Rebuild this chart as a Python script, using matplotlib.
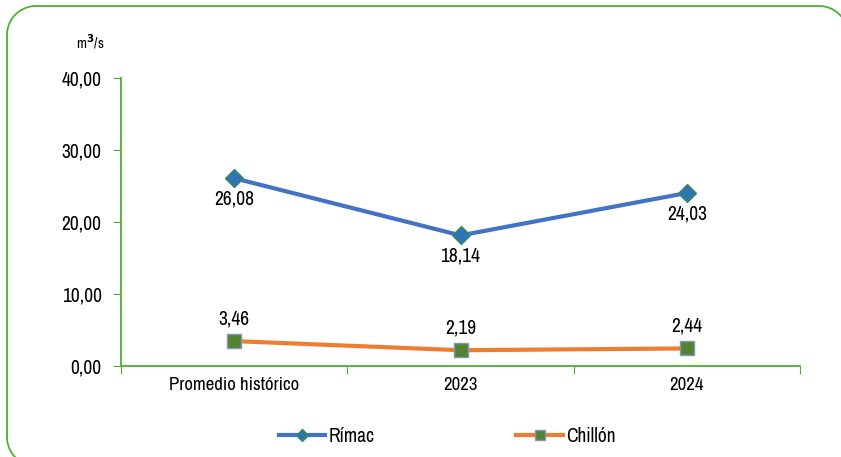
import numpy as np
import matplotlib.pyplot as plt
from matplotlib.lines import Line2D

categorias = ["Promedio histórico", "2023", "2024"]
rimac = [26.08, 18.14, 24.03]
chillon = [3.46, 2.19, 2.44]

plt.rcParams['font.family'] = ['Liberation Sans Narrow', 'Arial Narrow', 'Archivo Narrow',
                               'PT Sans Narrow', 'Roboto Condensed', 'Liberation Sans', 'DejaVu Sans']

verde = '#4CB030'
W, H = 841, 457

fig = plt.figure(figsize=(8.41, 4.57), dpi=100)

# marco redondeado, en pixeles (desde arriba a la izquierda)
# orden: esquina inf. izq. (de abajo hacia arriba), sup. izq., sup. der.
r = 29
bx = 7 + r + r * np.cos(np.linspace(0.5 * np.pi, np.pi, 30))
by = 466 - r + r * np.sin(np.linspace(0.5 * np.pi, np.pi, 30))
t1 = np.linspace(np.pi, 1.5 * np.pi, 30)
t2 = np.linspace(1.5 * np.pi, 2 * np.pi, 30)
px = np.concatenate([bx, 7 + r + r * np.cos(t1), 848 - r + r * np.cos(t2)])
py = np.concatenate([by, 6 + r + r * np.sin(t1), 6 + r + r * np.sin(t2)])
fig.add_artist(Line2D(px / W, 1 - py / H, transform=fig.transFigure,
                      color=verde, linewidth=1.3, solid_capstyle='round'))

ax = fig.add_axes([121 / W, 91 / H, 679 / W, 288 / H])

x = list(range(len(categorias)))
ax.plot(x, rimac, color='#4472C4', linewidth=3, marker='D', markersize=9,
        markerfacecolor='#2E75B6', markeredgecolor='#3A8A5A', zorder=3)
ax.plot(x, chillon, color='#ED7D31', linewidth=3, marker='s', markersize=10,
        markerfacecolor='#548235', markeredgecolor='#8497B0', zorder=3)

for xi, v in zip(x, rimac):
    ax.annotate(f"{v:.2f}".replace('.', ','), (xi, v), xytext=(0, -8),
                textcoords='offset points', ha='center', va='top', fontsize=14)
for xi, v in zip(x, chillon):
    ax.annotate(f"{v:.2f}".replace('.', ','), (xi, v), xytext=(0, 9),
                textcoords='offset points', ha='center', va='bottom', fontsize=14)

ax.set_xlim(-0.5, 2.5)
ax.set_ylim(0, 40)
ax.set_yticks([0, 10, 20, 30, 40])
ax.set_yticklabels([f"{t:.2f}".replace('.', ',') for t in [0, 10, 20, 30, 40]], fontsize=14)
ax.set_xticks([-0.5, 0.5, 1.5, 2.5], minor=False)
ax.set_xticklabels([])
ax.set_xticks(x, minor=True)
ax.set_xticklabels(categorias, minor=True, fontsize=13.5)
ax.tick_params(axis='x', which='minor', length=0, pad=8)
ax.tick_params(axis='x', which='major', length=6, color=verde, direction='out')
ax.tick_params(axis='y', length=6, color=verde, direction='out', pad=8)

for s in ['top', 'right']:
    ax.spines[s].set_visible(False)
for s in ['left', 'bottom']:
    ax.spines[s].set_color(verde)
    ax.spines[s].set_linewidth(1.3)

fig.text(90 / W, 1 - 42 / H, "m$^\\mathbf{3}$/s", fontsize=10.5, fontweight='bold',
         ha='center', va='center')

handles = [
    Line2D([], [], color='#4472C4', linewidth=3, marker='D', markersize=6,
           markerfacecolor='#2E75B6', markeredgecolor='#3A8A5A'),
    Line2D([], [], color='#ED7D31', linewidth=3, marker='s', markersize=7,
           markerfacecolor='#548235', markeredgecolor='#8497B0'),
]
fig.legend(handles, ["Rímac", "Chillón"], loc='center', bbox_to_anchor=(447 / W, 1 - 436 / H),
           ncol=2, frameon=False, fontsize=14, handlelength=2.4, handletextpad=0.15,
           columnspacing=7.3)

fig.savefig("out.png", dpi=100)
